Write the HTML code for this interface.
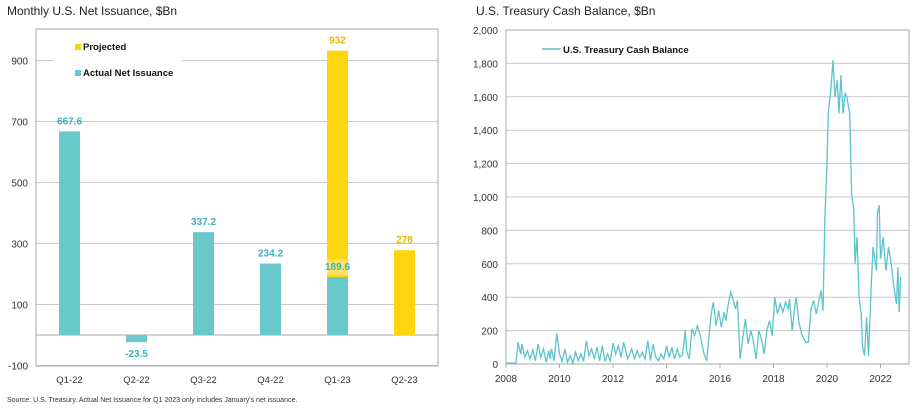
<!DOCTYPE html>
<html><head><meta charset="utf-8"><style>
body{margin:0;background:#fff;font-family:"Liberation Sans",Arial,sans-serif}
svg text{font-family:"Liberation Sans",Arial,sans-serif}
</style></head><body>
<svg id="s" width="915" height="405" xmlns="http://www.w3.org/2000/svg">
<text x="7" y="15" font-size="12" fill="#222">Monthly U.S. Net Issuance, $Bn</text>
<text x="476" y="15" font-size="12" fill="#222">U.S. Treasury Cash Balance, $Bn</text>
<text x="7" y="402" font-size="7" fill="#333">Source: U.S. Treasury. Actual Net Issuance for Q1 2023 only includes January's net issuance.</text>
<g id="L"></g>
<g id="R"></g>
</svg>
<script>
const categories=["Q1-22","Q2-22","Q3-22","Q4-22","Q1-23","Q2-23"];
const actualValues=[667.6,-23.5,337.2,234.2,189.6,null];
const projectedValues=[null,null,null,null,932,278];
const leftTicks=[-100,100,300,500,700,900];
const years=[2008,2008.37,2008.45,2008.55,2008.6,2008.7,2008.8,2008.9,2009.0,2009.1,2009.2,2009.3,2009.4,2009.5,2009.6,2009.65,2009.7,2009.8,2009.9,2010.0,2010.1,2010.2,2010.3,2010.4,2010.5,2010.6,2010.7,2010.8,2010.9,2011.0,2011.1,2011.2,2011.3,2011.4,2011.5,2011.6,2011.7,2011.8,2011.9,2012.0,2012.1,2012.2,2012.3,2012.4,2012.55,2012.7,2012.8,2012.9,2013.0,2013.1,2013.2,2013.3,2013.4,2013.5,2013.6,2013.7,2013.8,2013.9,2014.0,2014.1,2014.2,2014.3,2014.4,2014.5,2014.6,2014.65,2014.7,2014.75,2014.85,2014.95,2015.05,2015.15,2015.25,2015.4,2015.5,2015.6,2015.67,2015.75,2015.85,2015.95,2016.05,2016.15,2016.22,2016.3,2016.4,2016.5,2016.58,2016.65,2016.75,2016.85,2016.95,2017.05,2017.15,2017.25,2017.35,2017.45,2017.55,2017.65,2017.75,2017.85,2017.95,2018.05,2018.15,2018.25,2018.35,2018.45,2018.55,2018.6,2018.7,2018.8,2018.85,2018.95,2019.05,2019.2,2019.3,2019.4,2019.5,2019.6,2019.7,2019.78,2019.85,2019.92,2020.0,2020.05,2020.15,2020.22,2020.3,2020.38,2020.45,2020.52,2020.6,2020.68,2020.74,2020.85,2020.92,2021.0,2021.05,2021.12,2021.2,2021.28,2021.33,2021.4,2021.48,2021.55,2021.65,2021.72,2021.85,2021.88,2021.95,2022.0,2022.1,2022.2,2022.3,2022.4,2022.5,2022.6,2022.65,2022.7,2022.75];
const balances=[5,5,130,60,120,40,80,30,85,20,120,40,90,10,80,30,90,20,185,60,15,90,10,50,5,70,20,60,15,140,50,90,30,100,20,110,15,60,20,125,60,110,40,130,30,90,30,80,40,70,30,140,20,120,40,20,60,30,110,40,100,30,90,40,60,120,200,80,30,210,170,230,180,60,20,180,300,370,230,320,220,310,260,350,430,380,330,380,30,150,270,120,200,140,30,200,150,60,200,260,170,400,300,360,310,370,330,390,200,350,400,250,180,130,130,330,380,300,380,440,320,880,1200,1500,1650,1820,1600,1700,1500,1730,1500,1620,1600,1500,1020,920,600,760,400,300,100,50,280,50,450,700,560,900,950,630,760,560,700,600,460,360,580,310,520,370];
const rightTicks=[0,200,400,600,800,1000,1200,1400,1600,1800,2000];
const xYears=[2008,2010,2012,2014,2016,2018,2020,2022];

const NS="http://www.w3.org/2000/svg";
function mk(p,t,a){const e=document.createElementNS(NS,t);for(const k in a)e.setAttribute(k,a[k]);p.appendChild(e);return e;}
const fmt=v=>v.toLocaleString("en-US");

// left chart
const L=document.getElementById("L");
const lx0=36,lx1=438,ly0=29,ly1=366;
const ly=v=>335-v*(61/200);
const bw=(lx1-lx0)/categories.length;
const cx=i=>lx0+bw*(i+0.5);
leftTicks.forEach(t=>{
  const g=mk(L,"line",{x1:lx0,x2:lx1,y1:ly(t),y2:ly(t),stroke:"#c8c8c8","stroke-width":1});
  
  
  const tx=mk(L,"text",{x:lx0-8,y:ly(t)+4,"font-size":10,"text-anchor":"end",fill:"#333"});tx.textContent=t;
  
  
});
const zl=mk(L,"line",{x1:lx0,x2:lx1,y1:ly(0),y2:ly(0),stroke:"#aaa"});


const fr=mk(L,"rect",{x:lx0,y:ly0,width:lx1-lx0,height:ly1-ly0,fill:"none",stroke:"#aaa"});


// legend bg
mk(L,"rect",{x:54,y:40,width:128,height:48,fill:"#fff"});
categories.forEach((c,i)=>{
  const w=21,x=cx(i)-w/2;
  if(projectedValues[i]!=null){
    const v=projectedValues[i];
    const r=mk(L,"rect",{x:x,y:ly(v),width:w,height:ly(0)-ly(v),fill:"#ffd50f"});
    
    
    const t=mk(L,"text",{x:cx(i),y:ly(v)-7,"font-size":10,"font-weight":"bold","text-anchor":"middle",fill:"#e8b800"});t.textContent=v;
    
    
  }
  if(actualValues[i]!=null){
    const v=actualValues[i];
    const y=Math.min(ly(v),ly(0)),h=Math.abs(ly(v)-ly(0));
    const r=mk(L,"rect",{x:x,y:y,width:w,height:h,fill:"#68c8cc"});
    
    
    const ty=v<0?ly(v)+15:ly(v)-7;
    if(projectedValues[i]!=null) mk(L,"rect",{x:x,y:ly(v)-18,width:w,height:16,fill:"#ffe260"});
    const t=mk(L,"text",{x:cx(i),y:ty,"font-size":10,"font-weight":"bold","text-anchor":"middle",fill:"#3fb0b8"});t.textContent=v;
    
    
  }
  const t=mk(L,"text",{x:cx(i),y:383,"font-size":9.5,"text-anchor":"middle",fill:"#333"});t.textContent=c;
  
  
});
[["Projected","#ffd50f",50],["Actual Net Issuance","#68c8cc",76]].forEach(([n,c,y])=>{
  const r=mk(L,"rect",{x:75,y:y-6,width:6,height:6,fill:c});
  
  
  const t=mk(L,"text",{x:83,y:y,"font-size":9.5,"font-weight":"bold",fill:"#111"});t.textContent=n;
  
  
});

// right chart
const R=document.getElementById("R");
const rx0=506,rx1=909,ry0=30,ry1=364;
const rx=y=>rx0+(y-2008)*26.75;
const ry=v=>ry1-v*(ry1-ry0)/2000;
rightTicks.forEach(t=>{
  const g=mk(R,"line",{x1:rx0,x2:rx1,y1:ry(t),y2:ry(t),stroke:"#c8c8c8"});
  
  
  const tx=mk(R,"text",{x:rx0-8,y:ry(t)+4,"font-size":10,"text-anchor":"end",fill:"#333"});tx.textContent=fmt(t);
  
  
});
const fr2=mk(R,"rect",{x:rx0,y:ry0,width:rx1-rx0,height:ry1-ry0,fill:"none",stroke:"#aaa"});


xYears.forEach(y=>{
  mk(R,"line",{x1:rx(y),x2:rx(y),y1:ry1,y2:ry1+4,stroke:"#aaa"});
  const t=mk(R,"text",{x:rx(y),y:382,"font-size":10,"text-anchor":"middle",fill:"#333"});t.textContent=y;
  
  
});
const pts=years.map((y,i)=>rx(y).toFixed(1)+","+ry(balances[i]).toFixed(1)).join(" ");
const pl=mk(R,"polyline",{points:pts,fill:"none",stroke:"#5cc4ca","stroke-width":1.3});


const ll=mk(R,"line",{x1:542,x2:561,y1:49,y2:49,stroke:"#5cc4ca","stroke-width":1.5});


const lt=mk(R,"text",{x:563,y:53,"font-size":9.5,"font-weight":"bold",fill:"#111"});lt.textContent="U.S. Treasury Cash Balance";


</script>
</body></html>
